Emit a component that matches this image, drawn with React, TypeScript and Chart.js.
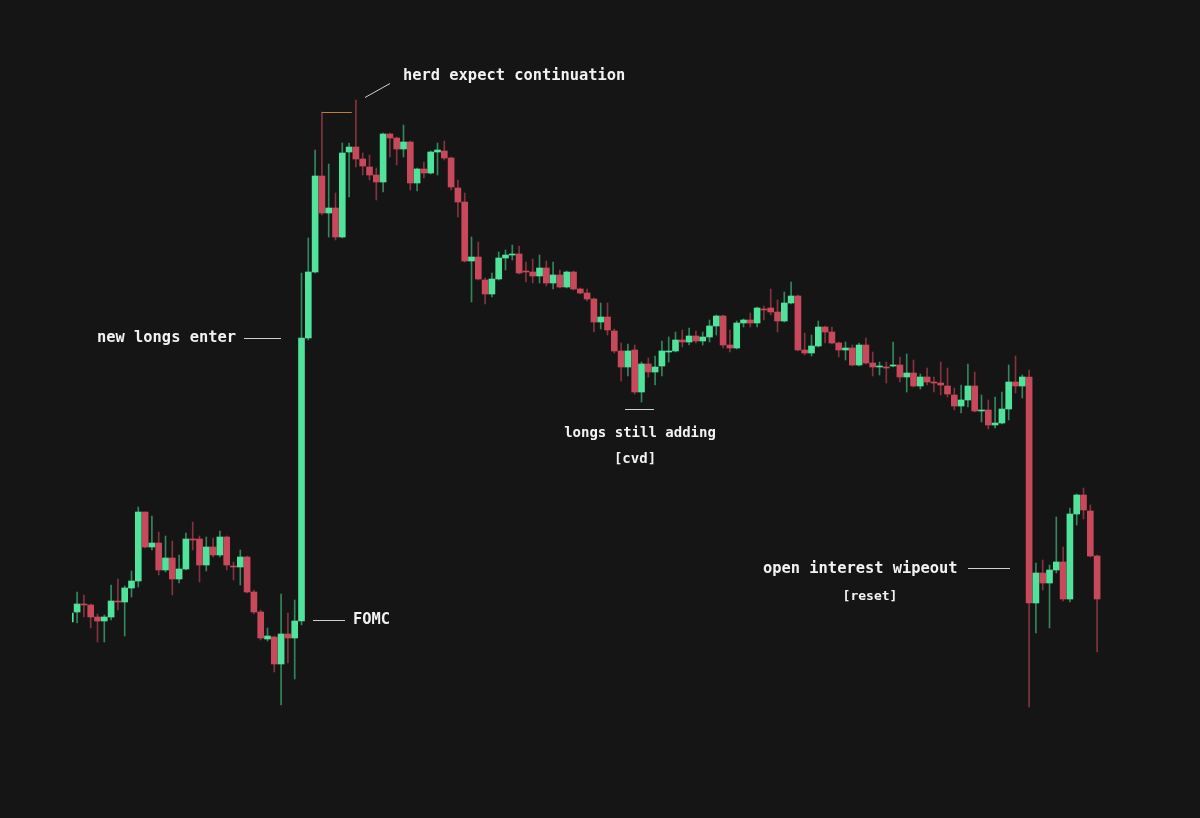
import React, { useEffect, useRef } from "react";
import { Chart, registerables } from "chart.js";

Chart.register(...registerables);

// Candle OHLC values (arbitrary price units)
const opens = [
  196, 206, 214, 213, 201, 197, 201, 217, 216, 230, 237, 306, 271, 275, 248, 260, 239, 249, 279, 279,
  253, 271, 263, 281, 252, 251, 261, 226, 206, 179, 181, 154, 184, 180, 197, 480, 546, 642, 605, 610,
  581, 666, 671, 659, 651, 643, 636, 684, 680, 669, 676, 635, 649, 645, 666, 667, 660, 630, 616, 557,
  561, 538, 524, 539, 560, 563, 564, 547, 546, 542, 550, 535, 543, 531, 546, 529, 525, 519, 496, 501,
  487, 467, 451, 468, 426, 454, 446, 452, 466, 467, 478, 476, 482, 477, 481, 492, 502, 473, 470, 495,
  498, 495, 509, 510, 506, 497, 515, 522, 468, 465, 472, 491, 486, 475, 468, 470, 453, 473, 455, 451,
  451, 452, 453, 441, 445, 432, 441, 436, 435, 432, 423, 412, 418, 432, 407, 408, 393, 395, 409, 436,
  432, 441, 215, 245, 235, 248, 256, 219, 304, 323, 307, 262,
];
const highs = [
  212, 226, 223, 214, 204, 203, 233, 239, 232, 247, 311, 306, 302, 286, 282, 277, 263, 285, 296, 282,
  281, 280, 287, 282, 256, 268, 262, 228, 208, 190, 182, 224, 205, 218, 545, 580, 668, 706, 654, 625,
  675, 675, 718, 665, 663, 650, 685, 685, 681, 693, 677, 650, 656, 667, 675, 677, 661, 638, 625, 581,
  576, 540, 545, 566, 568, 573, 572, 556, 559, 563, 557, 556, 548, 547, 547, 530, 529, 520, 515, 515,
  489, 475, 474, 473, 456, 460, 462, 477, 481, 486, 488, 490, 487, 486, 498, 503, 503, 488, 497, 499,
  505, 511, 512, 529, 518, 526, 536, 523, 485, 483, 497, 492, 491, 476, 476, 473, 475, 480, 466, 456,
  456, 476, 461, 464, 458, 444, 450, 441, 456, 450, 430, 433, 454, 446, 423, 418, 421, 426, 453, 462,
  443, 448, 255, 258, 253, 301, 271, 310, 324, 330, 313, 263,
];
const lows = [
  195, 195, 201, 190, 176, 176, 198, 208, 182, 221, 231, 270, 268, 243, 246, 223, 235, 248, 268, 236,
  247, 261, 261, 248, 238, 233, 225, 204, 178, 177, 146, 113, 155, 139, 193, 478, 545, 603, 581, 578,
  580, 621, 651, 643, 638, 618, 626, 661, 653, 661, 628, 627, 640, 644, 643, 658, 628, 601, 556, 516,
  538, 514, 521, 538, 548, 558, 544, 536, 535, 535, 532, 529, 530, 530, 528, 524, 517, 486, 489, 483,
  465, 437, 442, 424, 416, 441, 433, 442, 456, 466, 471, 473, 475, 473, 476, 483, 470, 466, 469, 491,
  491, 491, 498, 503, 486, 496, 514, 467, 463, 462, 471, 475, 474, 461, 458, 452, 452, 454, 442, 443,
  435, 451, 436, 426, 431, 429, 433, 426, 423, 421, 408, 405, 411, 406, 396, 389, 390, 394, 398, 425,
  420, 111, 185, 228, 190, 245, 217, 216, 293, 299, 261, 166,
];
const closes = [
  205, 214, 213, 201, 197, 201, 217, 216, 230, 237, 306, 271, 275, 248, 260, 239, 249, 279, 278, 253,
  271, 263, 281, 253, 251, 261, 226, 206, 180, 182, 154, 184, 180, 197, 480, 546, 642, 605, 610, 581,
  665, 671, 659, 652, 643, 636, 684, 680, 669, 676, 635, 649, 645, 666, 668, 660, 631, 616, 557, 561,
  539, 524, 539, 560, 563, 564, 545, 546, 542, 550, 535, 543, 531, 546, 529, 525, 519, 496, 501, 488,
  467, 451, 467, 426, 454, 446, 451, 467, 467, 478, 476, 482, 477, 481, 492, 502, 473, 470, 495, 498,
  495, 510, 508, 506, 497, 515, 522, 468, 465, 472, 491, 486, 475, 468, 470, 453, 473, 455, 451, 452,
  450, 453, 441, 445, 432, 441, 436, 435, 433, 424, 412, 418, 432, 407, 408, 393, 395, 409, 436, 432,
  441, 215, 245, 235, 248, 256, 219, 304, 323, 308, 262, 219,
];

const GREEN = "#4fe39b";
const RED = "#c9495c";
const GREEN_WICK = "rgba(79,227,155,0.55)";
const RED_WICK = "rgba(201,73,92,0.6)";
const BG = "#151515";

const annotations = [
  { text: "herd expect continuation", x: 403, y: 76, size: 15.4, align: "left" },
  { text: "new longs enter", x: 97, y: 338, size: 15.4, align: "left" },
  { text: "FOMC", x: 353, y: 620, size: 15.4, align: "left" },
  { text: "longs still adding", x: 640, y: 433, size: 14, align: "center" },
  { text: "[cvd]", x: 635, y: 459, size: 14, align: "center" },
  { text: "open interest wipeout", x: 763, y: 569, size: 15.4, align: "left" },
  { text: "[reset]", x: 870, y: 597, size: 13, align: "center" },
];
const leaderLines = [
  [365, 97, 390, 83],
  [244, 338, 281, 338],
  [313, 620, 345, 620],
  [625, 409, 654, 409],
  [968, 568, 1010, 568],
];

export default function App() {
  const ref = useRef<HTMLCanvasElement | null>(null);

  useEffect(() => {
    if (!ref.current) return;
    document.body.style.background = BG;
    const idx = opens.map((_, i) => i);
    const up = idx.map((i) => closes[i] >= opens[i]);

    const bgPlugin = {
      id: "bg",
      beforeDraw(chart: any) {
        const { ctx, width, height } = chart;
        ctx.save();
        ctx.fillStyle = BG;
        ctx.fillRect(0, 0, width, height);
        ctx.restore();
      },
    };

    const annPlugin = {
      id: "ann",
      afterDraw(chart: any) {
        const { ctx } = chart;
        const xs = chart.scales.x;
        const ys = chart.scales.y;
        ctx.save();
        // orange marker at the top wick
        ctx.strokeStyle = "#c97a2c";
        ctx.lineWidth = 1;
        ctx.beginPath();
        const yTop = Math.round(ys.getPixelForValue(highs[37])) + 0.5;
        ctx.moveTo(xs.getPixelForValue(37), yTop);
        ctx.lineTo(xs.getPixelForValue(41.4), yTop);
        ctx.stroke();

        ctx.strokeStyle = "#d0d0d0";
        ctx.lineWidth = 1;
        leaderLines.forEach(([x1, y1, x2, y2]) => {
          ctx.beginPath();
          ctx.moveTo(x1, y1 + 0.5);
          ctx.lineTo(x2, y2 + 0.5);
          ctx.stroke();
        });

        ctx.fillStyle = "#f2f2f2";
        ctx.textBaseline = "middle";
        annotations.forEach((a) => {
          ctx.font = `bold ${a.size}px "DejaVu Sans Mono", "Liberation Mono", monospace`;
          ctx.textAlign = a.align as CanvasTextAlign;
          ctx.fillText(a.text, a.x, a.y);
        });
        ctx.restore();
      },
    };

    const chart = new Chart(ref.current, {
      type: "bar",
      data: {
        datasets: [
          {
            label: "body",
            data: idx.map((i) => ({ x: i, y: [opens[i], closes[i]] })) as any,
            backgroundColor: idx.map((i) => (up[i] ? GREEN : RED)),
            barThickness: 6,
            minBarLength: 1,
            grouped: false,
            clip: 0,
            order: 0,
          } as any,
          {
            label: "wick",
            data: idx.map((i) => ({ x: i, y: [lows[i], highs[i]] })) as any,
            backgroundColor: idx.map((i) => (up[i] ? GREEN_WICK : RED_WICK)),
            barThickness: 1,
            grouped: false,
            clip: 0,
            order: 1,
          } as any,
        ],
      },
      options: {
        animation: false,
        responsive: false,
        maintainAspectRatio: false,
        layout: { padding: { left: 72, right: 95, top: 0, bottom: 0 } },
        plugins: { legend: { display: false }, tooltip: { enabled: false } },
        scales: {
          x: { type: "linear", min: 0.25, max: 152.16, offset: false, display: false },
          y: { type: "linear", min: 0, max: 818, display: false },
        },
      } as any,
      plugins: [bgPlugin, annPlugin],
    });
    return () => chart.destroy();
  }, []);

  return (
    <div style={{ position: "fixed", left: 0, top: 0, width: 1200, height: 818, background: BG }}>
      <canvas ref={ref} width={1200} height={818} style={{ display: "block" }} />
    </div>
  );
}
